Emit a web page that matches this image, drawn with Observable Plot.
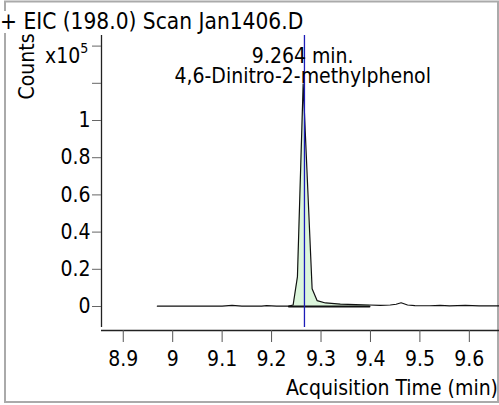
<!DOCTYPE html>
<html>
<head>
<meta charset="utf-8">
<script src="https://cdn.jsdelivr.net/npm/d3@7"></script>
<script src="https://cdn.jsdelivr.net/npm/@observablehq/plot@0.6"></script>
<style>
  html, body { margin: 0; padding: 0; background: #fff; }
  #chart { width: 499px; height: 405px; overflow: hidden; }
  svg text { font-family: "DejaVu Sans Condensed", "DejaVu Sans", sans-serif; font-stretch: condensed; }
</style>
</head>
<body>
<div id="chart"></div>
<script>
// ---- data (time in min, counts in x10^5) ----
const times  = [8.969, 9.00, 9.05, 9.10, 9.12, 9.14, 9.18, 9.19, 9.21, 9.235, 9.2436, 9.2523, 9.2639, 9.282, 9.292, 9.309, 9.339, 9.37, 9.398, 9.42, 9.44, 9.452, 9.462, 9.475, 9.49, 9.52, 9.541, 9.56, 9.592, 9.62, 9.661];
const counts = [0.002, 0.002, 0.002, 0.002, 0.006, 0.002, 0.002, 0.005, 0.002, 0.002, 0.008, 0.16, 1.197, 0.095, 0.032, 0.019, 0.013, 0.010, 0.008, 0.006, 0.008, 0.012, 0.020, 0.008, 0.005, 0.004, 0.006, 0.003, 0.006, 0.003, 0.003];
const peakStart = 9.235, peakEnd = 9.398;
const baselineTimes = [9.235, 9.398];
const baselineCounts = [0.0, 0.0];
const markerTime = 9.2665;
const markerLabel = ["9.264 min.", "4,6-Dinitro-2-methylphenol"];
const labelTime = 9.264;
const xTicks = [8.9, 9.0, 9.1, 9.2, 9.3, 9.4, 9.5, 9.6];
const yTicks = [0, 0.2, 0.4, 0.6, 0.8, 1.0, 1.2, 1.4];
const yTickLabels = ["0", "0.2", "0.4", "0.6", "0.8", "1", "", ""];
const xTickLabels = ["8.9", "9", "9.1", "9.2", "9.3", "9.4", "9.5", "9.6"];
const xDomain = [8.856, 9.661];
const yDomain = [-0.129, 1.457];
const titleText = "+ EIC (198.0) Scan Jan1406.D";
const yLabel = "Counts";
const xLabel = "Acquisition Time (min)";

const data = times.map((t, i) => ({t, c: counts[i]}));
const peakData = data.filter(d => d.t >= peakStart && d.t <= peakEnd);
const baseData = baselineTimes.map((t, i) => ({t, c: baselineCounts[i]}));

const chart = Plot.plot({
  width: 499,
  height: 405,
  marginLeft: 101,
  marginRight: 0,
  marginTop: 35,
  marginBottom: 75,
  style: {fontSize: "21px", fontFamily: "'DejaVu Sans Condensed', 'DejaVu Sans', sans-serif", color: "#000", background: "transparent"},
  x: {domain: xDomain},
  y: {domain: yDomain},
  marks: [
    Plot.areaY(peakData, {x: "t", y1: 0, y2: "c", fill: "#dcf6dc"}),
    Plot.lineY(data, {x: "t", y: "c", stroke: "#111", strokeWidth: 1.2}),
    Plot.line(baseData, {x: "t", y: "c", stroke: "#111", strokeWidth: 2}),
    Plot.ruleX([markerTime], {y1: yDomain[1], y2: -0.113, stroke: "#1c1cb8", strokeWidth: 1.3}),
    Plot.ruleX([xDomain[0]], {y1: yDomain[1], y2: -0.113, stroke: "#222", strokeWidth: 1.3}),
    Plot.ruleY([yDomain[0]], {stroke: "#222", strokeWidth: 1.3}),
    Plot.axisY({ticks: yTicks, tickSize: 9, tickPadding: 2, tickFormat: d => yTickLabels[yTicks.findIndex(v => Math.abs(v - d) < 1e-9)], label: null, stroke: "#666", fill: "#000"}),
    Plot.axisX({ticks: xTicks, tickSize: 12, tickPadding: 9, tickFormat: d => xTickLabels[xTicks.findIndex(v => Math.abs(v - d) < 1e-9)], label: null, stroke: "#555", fill: "#000"})
  ]
});
document.getElementById("chart").appendChild(chart);

const svg = d3.select(chart);
const xs = chart.scale("x");
// outer frame
svg.insert("rect", ":first-child")
  .attr("x", 5).attr("y", 1.5).attr("width", 493).attr("height", 400.5)
  .attr("fill", "none").attr("stroke", "#aaa").attr("stroke-width", 2);
// title with white background
const titleBg = svg.append("rect").attr("fill", "#fff");
const title = svg.append("text").attr("x", 0).attr("y", 29).attr("text-anchor", "start")
  .attr("fill", "#000").attr("font-size", 22.5).text(titleText);
const tb = title.node().getBBox();
titleBg.attr("x", 0).attr("y", tb.y + 3).attr("width", tb.width + 2).attr("height", tb.height - 4);
// y label
svg.append("text").attr("transform", "translate(34,66.5) rotate(-90)").attr("text-anchor", "middle")
  .attr("font-size", 21).attr("fill", "#000").text(yLabel);
// exponent
const ex = svg.append("text").attr("x", 45).attr("y", 63).attr("text-anchor", "start").attr("font-size", 21).attr("fill", "#000");
ex.append("tspan").text("x10");
ex.append("tspan").attr("dy", -10).attr("font-size", 14).text("5");
// marker annotation
const lx = xs.apply(labelTime);
svg.append("text").attr("x", lx).attr("y", 62.5).attr("text-anchor", "middle").attr("font-size", 21).attr("fill", "#000").text(markerLabel[0]);
svg.append("text").attr("x", lx).attr("y", 83).attr("text-anchor", "middle").attr("font-size", 21).attr("fill", "#000").text(markerLabel[1]);
// x label
svg.append("text").attr("x", 498).attr("y", 395).attr("text-anchor", "end").attr("font-size", 21).attr("fill", "#000").text(xLabel);
</script>
</body>
</html>
